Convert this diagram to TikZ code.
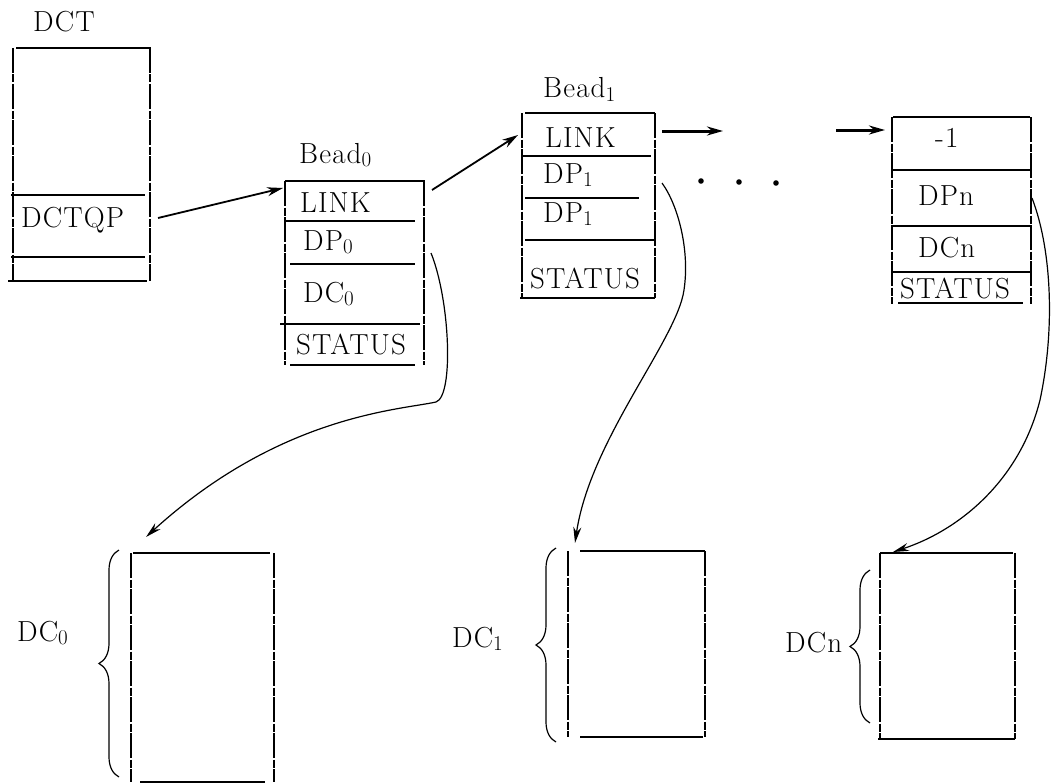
\documentclass[tikz,border=0pt]{standalone}
\usepackage{fontspec}
\setmainfont{Latin Modern Roman}[LetterSpace=4]
\usepackage{tikz}
\usetikzlibrary{positioning, arrows.meta, calc, decorations.pathreplacing}
\newcommand{\sub}[1]{\raisebox{-0.3ex}{\fontsize{21}{21}\selectfont #1}}

\begin{document}
\begin{tikzpicture}[
  x=1pt, y=-1pt,
  font=\fontsize{29}{32}\selectfont,
  frame/.style={inner sep=0pt, outer sep=0pt},
  lbl/.style={inner sep=0pt, anchor=base west},
  hsep/.style={line width=2pt},
  vside/.style={line width=1.1pt, dash pattern=on 25pt off 1.5pt on 8pt off 1.5pt},
  linkarr/.style={-{Stealth[length=16pt, width=9pt]}, line width=1.8pt},
  ptr/.style={-{Stealth[length=16pt, width=8pt]}, line width=1.2pt},
  dcbrace/.style={decorate, decoration={brace, amplitude=20pt}, line width=1.2pt},
  >=Stealth
]
\useasboundingbox (0,0) rectangle (1053,784);

% DCT
\node[frame, minimum width=137pt, minimum height=233pt] (dct) at (81.5,164.5) {};
\node[lbl] (dctlbl) at (33,32) {DCT};
\node[lbl] (dctqp) at (21,227) {DCTQP};
\draw[hsep] (16,48) -- (151,48);
\draw[hsep] (11,195) -- (145,195);
\draw[hsep] (11,257) -- (145,257);
\draw[hsep] (8,281) -- (147,281);
\draw[vside] (dct.north west) -- (dct.south west);
\draw[vside] (dct.north east) -- (dct.south east);

% Bead 0
\node[frame, minimum width=139pt, minimum height=184pt] (bead0) at (354.5,273) {};
\node[lbl] (b0lbl) at (299,163) {Bead\sub{0}};
\node[lbl] (b0link) at (300,212) {LINK};
\node[lbl] (b0dp) at (303,250) {DP\sub{0}};
\node[lbl] (b0dc) at (303,302) {DC\sub{0}};
\node[lbl] (b0stat) at (296,354) {STATUS};
\draw[hsep] (285,181) -- (425,181);
\draw[hsep] (285,221) -- (415,221);
\draw[hsep] (290,264) -- (415,264);
\draw[hsep] (280,324) -- (420,324);
\draw[hsep] (290,365) -- (415,365);
\draw[vside] (bead0.north west) -- (bead0.south west);
\draw[vside] (bead0.north east) -- (bead0.south east);

% Bead 1
\node[frame, minimum width=133pt, minimum height=185pt] (bead1) at (588.5,205.5) {};
\node[lbl] (b1lbl) at (543,98) {Bead\sub{1}};
\node[lbl] (b1link) at (545,147) {LINK};
\node[lbl] (b1dpa) at (543,183) {DP\sub{1}};
\node[lbl] (b1dpb) at (543,222) {DP\sub{1}};
\node[lbl] (b1stat) at (530,288) {STATUS};
\draw[hsep] (525,113) -- (655,113);
\draw[hsep] (522,156) -- (651,156);
\draw[hsep] (525,198) -- (639,198);
\draw[hsep] (525,240) -- (655,240);
\draw[hsep] (520,298) -- (655,298);
\draw[vside] (bead1.north west) -- (bead1.south west);
\draw[vside] (bead1.north east) -- (bead1.south east);

% Bead n
\node[frame, minimum width=139pt, minimum height=187pt] (beadn) at (961.5,210.5) {};
\node[lbl] (bnend) at (935,147) {-1};
\node[lbl] (bndp) at (918,205) {DPn};
\node[lbl] (bndc) at (918,257) {DCn};
\node[lbl] (bnstat) at (900,298) {STATUS};
\draw[hsep] (893,117) -- (1030,117);
\draw[hsep] (892,170) -- (1032,170);
\draw[hsep] (892,226) -- (1030,226);
\draw[hsep] (892,272) -- (1030,272);
\draw[hsep] (898,303) -- (1023,303);
\draw[vside] (beadn.north west) -- (beadn.south west);
\draw[vside] (beadn.north east) -- (beadn.south east);

% chain links
\coordinate (gapA) at (723,131);
\coordinate (gapB) at (836,130);
\draw[linkarr] ($(dct.east |- dctqp.base)+(8,-9)$) -- ($(bead0.north west)+(-2,7)$);
\draw[linkarr] ($(bead0.north east)+(8,9)$) -- ($(bead1.north west)+(-4,22)$);
\draw[linkarr, line width=3pt] ($(bead1.north east)+(7,18)$) -- (gapA);
\draw[linkarr, line width=3pt] (gapB) -- ($(beadn.north west)+(-7,13)$);
\foreach \x/\y in {701/181, 739/182, 776/183}
  \fill (\x,\y) circle (2.8pt);

% data areas
\node[frame, minimum width=143pt, minimum height=229pt] (dc0) at (202.5,667.5) {};
\node[frame, minimum width=137pt, minimum height=186pt] (dc1) at (636.5,644) {};
\node[frame, minimum width=135pt, minimum height=186pt] (dcn) at (947.5,646) {};
\draw[hsep] (133,553) -- (270,553);
\draw[hsep] (140,782) -- (265,782);
\draw[hsep] (580,551) -- (705,551);
\draw[hsep] (580,737) -- (703,737);
\draw[hsep] (880,553) -- (1013,553);
\draw[hsep] (878,739) -- (1015,739);
\foreach \d in {dc0, dc1, dcn} {
  \draw[vside] (\d.north west) -- (\d.south west);
  \draw[vside] (\d.north east) -- (\d.south east);
}

% braces + labels
\draw[dcbrace] ($(dc0.south west)+(-12,-5)$) -- ($(dc0.north west)+(-12,-3)$);
\draw[dcbrace] ($(dc1.south west)+(-12,5)$) -- ($(dc1.north west)+(-12,-3)$);
\draw[dcbrace] ($(dcn.south west)+(-10,-16)$) -- ($(dcn.north west)+(-10,17)$);
\node[lbl] (dc0lbl) at (17,641) {DC\sub{0}};
\node[lbl] (dc1lbl) at (452,647) {DC\sub{1}};
\node[lbl] (dcnlbl) at (785,652) {DCn};

% pointers to data areas
\draw[ptr] ($(bead0.east |- b0dp.base)+(7,3)$)
  .. controls (450,300) and (454,396) .. (436,402)
  .. controls (400,410) and (280,415) .. ($(dc0.north west)+(15,-16)$);
\draw[ptr] ($(bead1.east |- b1dpa.base)+(7,0)$)
  .. controls (678,205) and (690,250) .. (684,290)
  .. controls (677,340) and (590,440) .. ($(dc1.north west)+(7,-8)$);
\draw[ptr] ($(beadn.east |- bndp.base)+(1,-7)$)
  .. controls (1052,250) and (1055,330) .. (1040,400)
  .. controls (1020,480) and (960,530) .. ($(dcn.north west)+(13,-1)$);

\end{tikzpicture}
\end{document}
